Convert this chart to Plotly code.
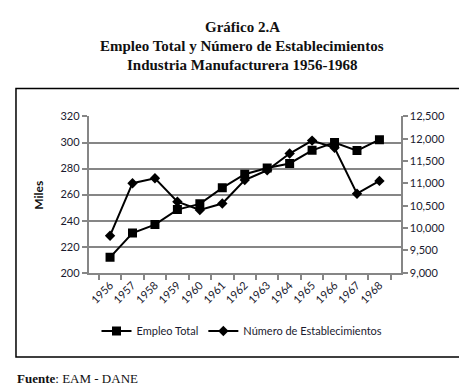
import plotly.graph_objects as go

years = ["1956", "1957", "1958", "1959", "1960", "1961", "1962",
         "1963", "1964", "1965", "1966", "1967", "1968"]
empleo_total = [211.8, 230.5, 237.0, 248.5, 252.9, 265.2, 275.7,
                280.4, 283.9, 294.0, 300.0, 293.8, 302.2]
num_establecimientos = [9830, 11005, 11115, 10590, 10405, 10550, 11075,
                        11295, 11670, 11960, 11800, 10770, 11057]
left_ticks = [200, 220, 240, 260, 280, 300, 320]
right_ticks = [9000, 9500, 10000, 10500, 11000, 11500, 12000, 12500]

W, H = 467, 387
def px(x):
    return x / W
def py(y):
    return 1 - y / H

tick_font = dict(family="Lato, Carlito, sans-serif", size=11, color="#1a1a2e")
grey = "#868686"

fig = go.Figure()
fig.add_trace(go.Scatter(
    x=years, y=empleo_total, name="Empleo Total",
    mode="lines+markers",
    line=dict(color="black", width=2),
    marker=dict(symbol="square", size=9, color="black"),
    yaxis="y",
))
fig.add_trace(go.Scatter(
    x=years, y=num_establecimientos, name="Número de Establecimientos",
    mode="lines+markers",
    line=dict(color="black", width=2),
    marker=dict(symbol="diamond", size=8, color="black"),
    yaxis="y2",
))

fig.update_layout(
    width=W, height=H,
    margin=dict(l=0, r=0, t=0, b=0),
    paper_bgcolor="white", plot_bgcolor="white",
    showlegend=True,
    legend=dict(orientation="h", x=0.5, xanchor="center", y=py(327), yanchor="middle",
                font=dict(family="Lato, Carlito, sans-serif", size=11, color="#1a1a2e"),
                itemwidth=30, tracegroupgap=0, bgcolor="rgba(0,0,0,0)"),
    xaxis=dict(
        domain=[px(80), px(392.5)],
        type="category",
        tickson="boundaries",
        ticks="outside", ticklen=5, tickcolor=grey, tickwidth=1.5,
        showline=True, linecolor=grey, linewidth=2,
        showgrid=False,
        tickangle=-45, tickfont=tick_font,
        anchor="y",
    ),
    yaxis=dict(
        domain=[py(266.7), py(105)],
        range=[200, 320],
        tickvals=left_ticks,
        ticks="outside", ticklen=5, tickcolor=grey, tickwidth=1.5,
        showline=True, linecolor=grey, linewidth=2,
        showgrid=True, gridcolor=grey, gridwidth=2,
        zeroline=False,
        tickfont=tick_font,
        anchor="x",
    ),
    yaxis2=dict(
        overlaying="y", side="right",
        range=[9000, 12500],
        tickvals=right_ticks,
        tickformat=",",
        ticks="outside", ticklen=5, tickcolor=grey, tickwidth=1.5,
        showline=True, linecolor=grey, linewidth=2,
        showgrid=False, zeroline=False,
        tickfont=tick_font,
        anchor="x",
    ),
)

# Outer frame
fig.add_shape(type="rect", xref="paper", yref="paper",
              x0=px(7), x1=px(462.5), y0=py(354), y1=py(76),
              line=dict(color="black", width=1.5), fillcolor="rgba(0,0,0,0)", layer="below")

title_font = dict(family="Liberation Serif, DejaVu Serif, serif", size=15, color="#111")
for txt, yy in [("<b>Gráfico 2.A</b>", 12),
                ("<b>Empleo Total y Número de Establecimientos</b>", 32),
                ("<b>Industria Manufacturera 1956-1968</b>", 52)]:
    fig.add_annotation(text=txt, xref="paper", yref="paper", x=0.5, y=py(yy),
                       xanchor="center", yanchor="middle", showarrow=False, font=title_font)

fig.add_annotation(text="<b>Miles</b>", xref="paper", yref="paper", x=px(30), y=py(186),
                   textangle=-90, xanchor="center", yanchor="middle", showarrow=False,
                   font=dict(family="Lato, Carlito, sans-serif", size=12, color="#111"))

fig.add_annotation(text="<b>Fuente</b>: EAM - DANE", xref="paper", yref="paper",
                   x=px(6), y=py(376), xanchor="left", yanchor="middle", showarrow=False,
                   font=dict(family="Liberation Serif, DejaVu Serif, serif", size=13, color="#111"))

fig.write_html("out.html")
